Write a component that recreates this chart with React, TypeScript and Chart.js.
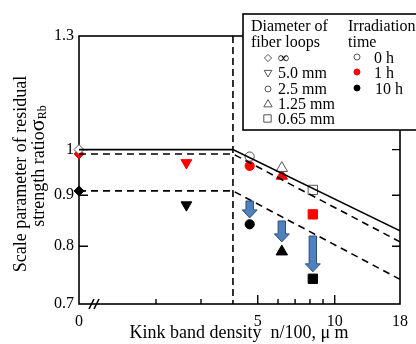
import React, { useEffect, useRef } from 'react';
import { Chart, registerables } from 'chart.js';
Chart.register(...registerables);

// ---- data ----
const xTickValues = [1, 5, 10, 18];
const xTickLabels = ['0', '5', '10', '18'];
const xMajorTicks = [5, 10];
const xMinorTicks = [2, 3, 6, 7, 8, 9];
const yTickValues = [0.7, 0.8, 0.9, 1, 1.3];
const yTickLabels = ['0.7', '0.8', '0.9', '1', '1.3'];
const yInnerTicks = [0.8, 0.9, 1];
const breakX = 4; // vertical dashed line position

// kink band density (x = 1 is shown as "0" on the broken axis)
const kinkDensity = [1, 2.63, 4.65, 6.21, 8.21];
const loopDiameters = ['∞', '5.0 mm', '2.5 mm', '1.25 mm', '0.65 mm'];
const strength0h = [1.0, null, 0.984, 0.958, 0.911];
const strength1h = [0.99, 0.97, 0.963, 0.941, 0.861];
const strength10h = [0.909, 0.88, 0.8415, 0.79, 0.742];

const fitX = [1, 4, 18];
const fit0h = [1.0, 1.0, 0.829];
const fit1h = [0.99, 0.99, 0.808];
const fit10h = [0.909, 0.909, 0.741];

const arrowX = [4.65, 6.21, 8.21];
const arrowFrom = [0.888, 0.848, 0.819];
const arrowTo = [0.854, 0.808, 0.754];

const irradiationLabels = ['0 h', '1 h', '10 h'];

// ---- styles ----
const shapes = ['rectRot', 'triangle', 'circle', 'triangle', 'rect'];
const rotations = [0, 180, 0, 0, 0];
const radii = [5, 6.2, 4.6, 6.6, 6.6];
const FONT = 'Liberation Serif';

const toPts = (xs: number[], ys: (number | null)[]) =>
  xs.map((x, i) => ({ x, y: ys[i] })).filter((p) => p.y !== null) as { x: number; y: number }[];

function markerDataset(ys: (number | null)[], fill: string, border: string) {
  const idx = ys.map((v, i) => (v === null ? -1 : i)).filter((i) => i >= 0);
  return {
    type: 'scatter' as const,
    data: idx.map((i) => ({ x: kinkDensity[i], y: ys[i] as number })),
    pointStyle: idx.map((i) => shapes[i]),
    rotation: idx.map((i) => rotations[i]),
    pointRadius: idx.map((i) => radii[i]),
    pointBackgroundColor: fill,
    pointBorderColor: border,
    pointBorderWidth: 1,
    showLine: false,
    clip: false as any,
  };
}

function lineDataset(ys: number[], dashed: boolean) {
  return {
    type: 'scatter' as const,
    data: toPts(fitX, ys),
    showLine: true,
    borderColor: '#000',
    borderWidth: 1.6,
    borderDash: dashed ? [7, 5] : [],
    pointRadius: 0,
    fill: false,
  };
}

function drawShape(ctx: CanvasRenderingContext2D, shape: string, rot: number, x: number, y: number, r: number) {
  ctx.beginPath();
  if (shape === 'circle') {
    ctx.arc(x, y, r, 0, Math.PI * 2);
  } else if (shape === 'rect') {
    ctx.rect(x - r, y - r, 2 * r - 1, 2 * r - 1);
  } else if (shape === 'rectRot') {
    ctx.moveTo(x - r, y);
    ctx.lineTo(x, y - r);
    ctx.lineTo(x + r, y);
    ctx.lineTo(x, y + r);
    ctx.closePath();
  } else if (shape === 'triangle') {
    const s = rot === 180 ? -1 : 1;
    ctx.moveTo(x, y - s * r);
    ctx.lineTo(x + r * 0.95, y + s * r * 0.65);
    ctx.lineTo(x - r * 0.95, y + s * r * 0.65);
    ctx.closePath();
  }
  ctx.fill();
  ctx.stroke();
}

const framePlugin = {
  id: 'frame',
  beforeDatasetsDraw(chart: any) {
    const { ctx, chartArea: a, scales } = chart;
    const xs = scales.x;
    const ys = scales.y;
    ctx.save();
    // vertical dashed line
    ctx.strokeStyle = '#000';
    ctx.lineWidth = 1.6;
    ctx.setLineDash([7, 4]);
    const bx = xs.getPixelForValue(breakX);
    ctx.beginPath();
    ctx.moveTo(bx, a.top);
    ctx.lineTo(bx, a.bottom);
    ctx.stroke();
    ctx.setLineDash([]);
    // frame
    ctx.lineWidth = 1.6;
    ctx.strokeRect(a.left, a.top, a.right - a.left, a.bottom - a.top);
    // ticks
    ctx.lineWidth = 1.4;
    ctx.beginPath();
    yInnerTicks.forEach((v) => {
      const y = ys.getPixelForValue(v);
      ctx.moveTo(a.left, y);
      ctx.lineTo(a.left + 9, y);
      ctx.moveTo(a.right, y);
      ctx.lineTo(a.right - 8, y);
    });
    xMajorTicks.forEach((v) => {
      const x = xs.getPixelForValue(v);
      ctx.moveTo(x, a.bottom);
      ctx.lineTo(x, a.bottom - 9);
    });
    xMinorTicks.forEach((v) => {
      const x = xs.getPixelForValue(v);
      ctx.moveTo(x, a.bottom);
      ctx.lineTo(x, a.bottom - 5);
    });
    ctx.stroke();
    // axis break marks
    ctx.lineWidth = 1.6;
    ctx.beginPath();
    const b0 = a.left + 10;
    ctx.moveTo(b0, a.bottom + 5);
    ctx.lineTo(b0 + 5, a.bottom - 5);
    ctx.moveTo(b0 + 5, a.bottom + 5);
    ctx.lineTo(b0 + 10, a.bottom - 5);
    ctx.stroke();
    ctx.restore();
  },
  afterDatasetsDraw(chart: any) {
    const { ctx, scales } = chart;
    const xs = scales.x;
    const ys = scales.y;
    ctx.save();
    // blue arrows
    arrowX.forEach((xv, i) => {
      const cx = xs.getPixelForValue(xv);
      const y0 = ys.getPixelForValue(arrowFrom[i]);
      const y1 = ys.getPixelForValue(arrowTo[i]);
      const sw = 3.7;
      const hw = 7.5;
      const hh = 8;
      ctx.beginPath();
      ctx.moveTo(cx - sw, y0);
      ctx.lineTo(cx + sw, y0);
      ctx.lineTo(cx + sw, y1 - hh);
      ctx.lineTo(cx + hw, y1 - hh);
      ctx.lineTo(cx, y1);
      ctx.lineTo(cx - hw, y1 - hh);
      ctx.lineTo(cx - sw, y1 - hh);
      ctx.closePath();
      ctx.fillStyle = '#4f81bd';
      ctx.fill();
      ctx.strokeStyle = '#2f4f7a';
      ctx.lineWidth = 1;
      ctx.stroke();
    });
    ctx.restore();
  },
  afterDraw(chart: any) {
    const { ctx } = chart;
    ctx.save();
    // y title
    ctx.fillStyle = '#000';
    ctx.textAlign = 'center';
    ctx.textBaseline = 'middle';
    ctx.translate(21, 174);
    ctx.rotate(-Math.PI / 2);
    ctx.font = `18px "${FONT}"`;
    ctx.fillText('Scale parameter of residual', 0, 0);
    ctx.restore();

    ctx.save();
    ctx.fillStyle = '#000';
    ctx.translate(39, 166);
    ctx.rotate(-Math.PI / 2);
    ctx.textBaseline = 'middle';
    const t1 = 'strength ratio';
    ctx.font = `18px "${FONT}"`;
    const w1 = ctx.measureText(t1).width;
    ctx.font = `22px "${FONT}"`;
    const w2 = ctx.measureText('σ').width;
    ctx.font = `12px "${FONT}"`;
    const w3 = ctx.measureText('Rb').width;
    let sx = -(w1 + w2 + w3) / 2;
    ctx.textAlign = 'left';
    ctx.font = `18px "${FONT}"`;
    ctx.fillText(t1, sx, 0);
    sx += w1;
    ctx.font = `22px "${FONT}"`;
    ctx.fillText('σ', sx, -1);
    sx += w2;
    ctx.font = `12px "${FONT}"`;
    ctx.fillText('Rb', sx, 4);
    ctx.restore();

    // x title
    ctx.save();
    ctx.fillStyle = '#000';
    ctx.textAlign = 'center';
    ctx.textBaseline = 'middle';
    ctx.font = `18px "${FONT}"`;
    ctx.fillText('Kink band density  n/100, μ m', 239, 333);
    ctx.restore();

    // legend box
    ctx.save();
    const bx = 243;
    const by = 14;
    ctx.fillStyle = '#fff';
    ctx.fillRect(bx, by, 200, 116);
    ctx.strokeStyle = '#000';
    ctx.lineWidth = 1.6;
    ctx.strokeRect(bx, by, 200, 116);
    ctx.fillStyle = '#000';
    ctx.font = `16px "${FONT}"`;
    ctx.textBaseline = 'middle';
    ctx.textAlign = 'left';
    ctx.fillText('Diameter of', 251, 27);
    ctx.fillText('fiber loops', 251, 43);
    ctx.fillText('Irradiation', 348, 27);
    ctx.fillText('time', 348, 43);
    const rows = [58, 73, 89, 104, 119];
    loopDiameters.forEach((lab, i) => {
      const y = rows[i];
      const r = [3.6, 4, 3, 4.4, 4.2][i];
      ctx.save();
      ctx.strokeStyle = '#555';
      ctx.fillStyle = '#fff';
      ctx.lineWidth = 1;
      drawShape(ctx, shapes[i], rotations[i], 268, y, r);
      ctx.restore();
      ctx.fillStyle = '#000';
      ctx.fillText(lab, 278, y + 1);
    });
    const cols = ['#fff', '#ff0000', '#000'];
    const borders = ['#555', '#ff0000', '#000'];
    irradiationLabels.forEach((lab, i) => {
      const y = rows[i] + 1;
      ctx.beginPath();
      ctx.arc(357, y - 2, 3, 0, Math.PI * 2);
      ctx.fillStyle = cols[i];
      ctx.fill();
      ctx.strokeStyle = borders[i];
      ctx.lineWidth = 1;
      ctx.stroke();
      ctx.fillStyle = '#000';
      ctx.fillText(lab, i === 2 ? 375 : 374, y);
    });
    ctx.restore();
  },
};

export default function App() {
  const ref = useRef<HTMLCanvasElement>(null);
  useEffect(() => {
    if (!ref.current) return;
    const chart = new Chart(ref.current, {
      type: 'scatter',
      data: {
        datasets: [
          lineDataset(fit0h, false),
          lineDataset(fit1h, true),
          lineDataset(fit10h, true),
          markerDataset(strength0h, '#ffffff', '#555555'),
          markerDataset(strength1h, '#ff0000', '#ff0000'),
          markerDataset(strength10h, '#000000', '#000000'),
        ] as any,
      },
      options: {
        animation: false,
        responsive: false,
        devicePixelRatio: 1,
        layout: { padding: { top: 36, right: 15, left: 0, bottom: 0 } },
        plugins: { legend: { display: false }, tooltip: { enabled: false } },
        scales: {
          x: {
            type: 'logarithmic',
            min: 1,
            max: 18,
            grid: { display: false, drawTicks: false },
            border: { display: false },
            afterBuildTicks: (s: any) => {
              s.ticks = xTickValues.map((v) => ({ value: v }));
            },
            afterFit: (s: any) => {
              s.height = 40;
            },
            ticks: {
              autoSkip: false,
              maxRotation: 0,
              padding: 8,
              color: '#000',
              font: { family: FONT, size: 16 },
              callback: (v: any) => {
                const i = xTickValues.indexOf(Number(v));
                return i >= 0 ? xTickLabels[i] : '';
              },
            },
          },
          y: {
            type: 'logarithmic',
            min: 0.7,
            max: 1.3,
            grid: { display: false, drawTicks: false },
            border: { display: false },
            afterBuildTicks: (s: any) => {
              s.ticks = yTickValues.map((v) => ({ value: v }));
            },
            afterFit: (s: any) => {
              s.width = 79;
            },
            ticks: {
              autoSkip: false,
              padding: 5,
              color: '#000',
              font: { family: FONT, size: 16 },
              callback: (v: any) => {
                const i = yTickValues.findIndex((t) => Math.abs(t - Number(v)) < 1e-6);
                return i >= 0 ? yTickLabels[i] : '';
              },
            },
          },
        },
      },
      plugins: [framePlugin],
    });
    return () => chart.destroy();
  }, []);
  return (
    <div style={{ position: 'absolute', left: 0, top: 0, width: 416, height: 344, background: '#fff' }}>
      <canvas ref={ref} width={416} height={344} style={{ display: 'block', width: 416, height: 344 }} />
    </div>
  );
}
